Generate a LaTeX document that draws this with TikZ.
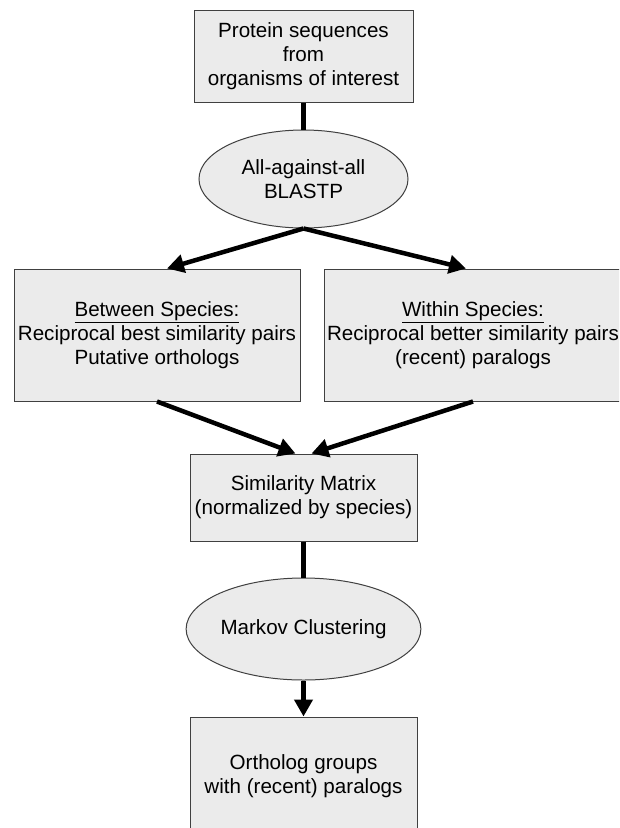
\documentclass[tikz,border=0pt]{standalone}
\usepackage{fontspec}
\setmainfont{Liberation Sans}
\usetikzlibrary{shapes.geometric,arrows.meta}

\begin{document}
\begin{tikzpicture}[x=1pt,y=-1pt,
  font=\fontsize{20.6}{24}\selectfont,
  box/.style={draw=black!75,line width=1pt,fill=black!8,inner sep=0pt,align=center},
  oval/.style={ellipse,draw=black!75,line width=1pt,fill=black!8,inner sep=0pt,align=center},
  link/.style={line width=4.5pt,black},
  flow/.style={link,-{Triangle[length=17pt,width=18pt]}}]
\useasboundingbox (0,0) rectangle (619,828);
\clip (0,0) rectangle (619,828);
\fill[white] (0,0) rectangle (619,828);
% inputs
\node[box,minimum width=219pt,minimum height=92pt] (prot) at (303.5,56)
  {Protein sequences\\from\\organisms of interest};
\node[oval,minimum width=209pt,minimum height=98pt] (blast) at (303.5,179)
  {All-against-all\\BLASTP};
% pair tables
\node[box,minimum width=286pt,minimum height=132pt] (between) at (157,335)
  {\underline{Between Species:}\\Reciprocal best similarity pairs\\Putative orthologs};
\node[box,minimum width=298pt,minimum height=132pt] (within) at (473,335)
  {\underline{Within Species:}\\Reciprocal better similarity pairs\\(recent) paralogs};
% clustering
\node[box,minimum width=227pt,minimum height=87pt] (sim) at (303.5,497.5)
  {Similarity Matrix\\(normalized by species)};
\node[oval,minimum width=219pt,minimum height=102pt] (markov) at (303.5,629)
  {Markov Clustering};
\node[box,minimum width=227pt,minimum height=118pt] (groups) at (303.5,776)
  {Ortholog groups\\with (recent) paralogs};

\draw[link] (prot.south) -- (blast.north);
\draw[flow] (blast.south) -- ([xshift=10pt]between.north);
\draw[flow] (blast.south) -- ([xshift=-7pt]within.north);
\draw[flow] (between.south) -- ([xshift=-8pt]sim.north);
\draw[flow] (within.south) -- ([xshift=8pt]sim.north);
\draw[link] (sim.south) -- (markov.north);
\draw[flow] (markov.south) -- (groups.north);
\end{tikzpicture}
\end{document}
